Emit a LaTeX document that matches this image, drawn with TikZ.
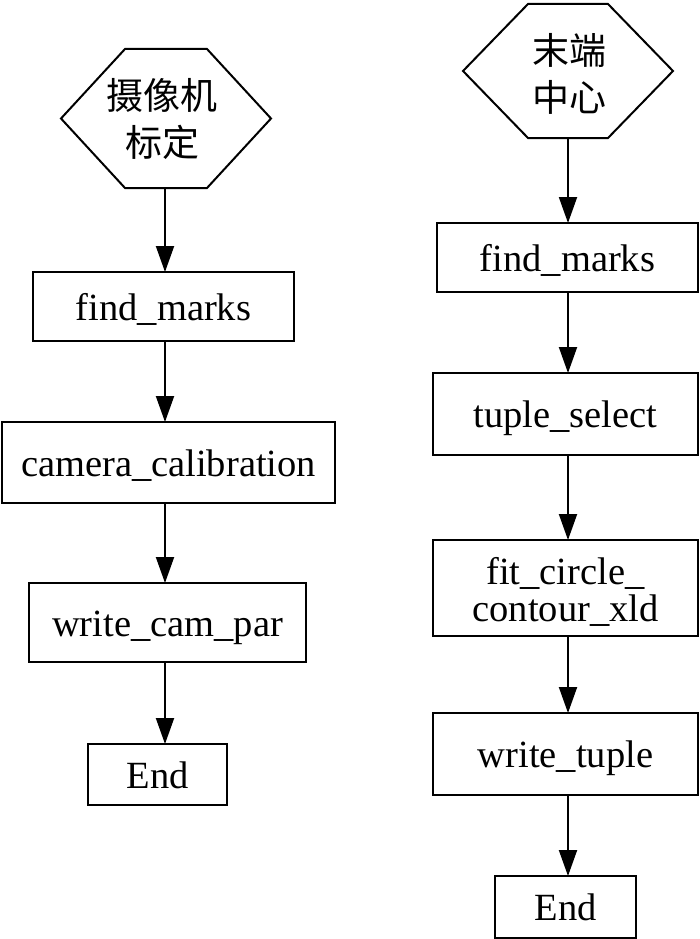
\documentclass[tikz,border=0pt]{standalone}
\usepackage{fontspec}
\setmainfont{Liberation Serif}
\newfontfamily\cjk{Noto Sans CJK SC}
\usetikzlibrary{arrows.meta}
\begin{document}
\begin{tikzpicture}[x=1pt,y=-1pt,
  every node/.style={inner sep=0pt, outer sep=0pt},
  boxfont/.style={font=\fontsize{38.5}{37.5}\selectfont},
  box/.style={draw, line width=2pt, rectangle, align=center, text height=30pt, text depth=3pt, boxfont},
  hexlabel/.style={align=center, font=\cjk\fontsize{37}{47}\selectfont},
  hexline/.style={line width=2pt, line join=miter},
  arr/.style={line width=2pt, -{Triangle[length=26pt,width=18pt]}}]
\useasboundingbox (0,0) rectangle (700,939);
% left column
\node[minimum width=210pt, minimum height=139pt] (h1) at (166,118.5) {};
\node[hexlabel] (h1t) at (162,119) {摄像机\\标定};
\draw[hexline] (h1.west) -- ([xshift=64pt]h1.north west) -- ([xshift=-64pt]h1.north east) -- (h1.east) -- ([xshift=-64pt]h1.south east) -- ([xshift=64pt]h1.south west) -- cycle;
\node[box, minimum width=261pt, minimum height=69pt] (f1) at (163.5,306.5) {find\_marks};
\node[box, minimum width=333pt, minimum height=81pt] (c1) at (168.5,462.5) {camera\_calibration};
\node[box, minimum width=277pt, minimum height=79pt] (w1) at (167.5,622.5) {write\_cam\_par};
\node[box, minimum width=139pt, minimum height=61pt] (e1) at (157.5,774.5) {End};
\coordinate (Lx) at (165,0);
\draw[arr] (Lx |- h1.south) -- (Lx |- f1.north);
\draw[arr] (Lx |- f1.south) -- (Lx |- c1.north);
\draw[arr] (Lx |- c1.south) -- (Lx |- w1.north);
\draw[arr] (Lx |- w1.south) -- (Lx |- e1.north);
% right column
\node[minimum width=210pt, minimum height=134pt] (h2) at (568,71) {};
\node[hexlabel] (h2t) at (569.5,73.5) {末端\\中心};
\draw[hexline] (h2.west) -- ([xshift=65pt]h2.north west) -- ([xshift=-65pt]h2.north east) -- (h2.east) -- ([xshift=-65pt]h2.south east) -- ([xshift=65pt]h2.south west) -- cycle;
\node[box, minimum width=261pt, minimum height=69pt] (f2) at (567.5,257.5) {find\_marks};
\node[box, minimum width=265pt, minimum height=82pt] (t2) at (565.5,414) {tuple\_select};
\node[draw, line width=2pt, minimum width=265pt, minimum height=96pt] (c2) at (565.5,588) {};
\node[boxfont, align=center] (c2t) at (565.5,592) {fit\_circle\_\\contour\_xld};
\node[box, minimum width=265pt, minimum height=82pt] (w2) at (565.5,754) {write\_tuple};
\node[box, minimum width=141pt, minimum height=62pt] (e2) at (565.5,907) {End};
\coordinate (Rx) at (568,0);
\draw[arr] (Rx |- h2.south) -- (Rx |- f2.north);
\draw[arr] (Rx |- f2.south) -- (Rx |- t2.north);
\draw[arr] (Rx |- t2.south) -- (Rx |- c2.north);
\draw[arr] (Rx |- c2.south) -- (Rx |- w2.north);
\draw[arr] (Rx |- w2.south) -- (Rx |- e2.north);
\end{tikzpicture}
\end{document}
